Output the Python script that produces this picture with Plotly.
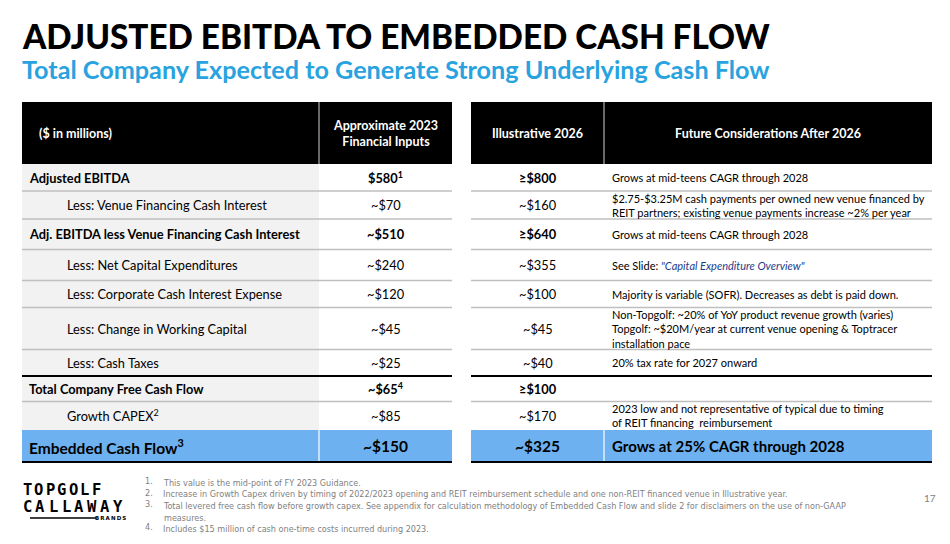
import plotly.graph_objects as go

# ---------------- data ----------------
title = "ADJUSTED EBITDA TO EMBEDDED CASH FLOW"
subtitle = "Total Company Expected to Generate Strong Underlying Cash Flow"

header_labels = ["($ in millions)", "Approximate 2023<br>Financial Inputs",
                 "Illustrative 2026", "Future Considerations After 2026"]

row_labels = [
    "Adjusted EBITDA",
    "Less: Venue Financing Cash Interest",
    "Adj. EBITDA less Venue Financing Cash Interest",
    "Less: Net Capital Expenditures",
    "Less: Corporate Cash Interest Expense",
    "Less: Change in Working Capital",
    "Less: Cash Taxes",
    "Total Company Free Cash Flow",
    "Growth CAPEX<sup>2</sup>",
    "Embedded Cash Flow<sup>3</sup>",
]
row_kind = ["total", "item", "total", "item", "item", "item", "item",
            "total", "item", "highlight"]
inputs_2023 = ["$580<sup>1</sup>", "~$70", "~$510", "~$240", "~$120", "~$45",
               "~$25", "~$65<sup>4</sup>", "~$85", "~$150"]
illustrative_2026 = ["≥$800", "~$160", "≥$640", "~$355", "~$100", "~$45",
                     "~$40", "≥$100", "~$170", "~$325"]
future_considerations = [
    "Grows at mid-teens CAGR through 2028",
    "$2.75-$3.25M cash payments per owned new venue financed by<br>"
    "REIT partners; existing venue payments increase ~2% per year",
    "Grows at mid-teens CAGR through 2028",
    "See Slide: <i><span style='color:#1F3C88'>\"Capital Expenditure Overview\"</span></i>",
    "Majority is variable (SOFR). Decreases as debt is paid down.",
    "Non-Topgolf: ~20% of YoY product revenue growth (varies)<br>"
    "Topgolf: ~$20M/year at current venue opening & Toptracer<br>installation pace",
    "20% tax rate for 2027 onward",
    "",
    "2023 low and not representative of typical due to timing<br>"
    "of REIT financing  reimbursement",
    "Grows at 25% CAGR through 2028",
]
footnotes = [
    "This value is the mid-point of FY 2023 Guidance.",
    "Increase in Growth Capex driven by timing of 2022/2023 opening and REIT reimbursement "
    "schedule and one non-REIT financed venue in Illustrative year.",
    "Total levered free cash flow before growth capex. See appendix for calculation methodology "
    "of Embedded Cash Flow and slide 2 for disclaimers on the use of non-GAAP<br>measures.",
    "Includes $15 million of cash one-time costs incurred during 2023.",
]
logo_lines = ["TOPGOLF", "CALLAWAY"]
logo_sub = "BRANDS"
page_number = "17"

# ---------------- layout constants ----------------
W, H = 950, 544
OFF = 8                      # page body margin
LX = [22, 319, 452]          # left table column edges
RX = [471, 604, 932]         # right table column edges
HEAD = (102, 164)
ROWS = [164, 191, 219, 249.5, 280.5, 307.5, 349.5, 376, 401.5, 430, 462]
FONT = "Lato, 'Open Sans', sans-serif"
NOTE_FONT = "'Liberation Sans Narrow', 'DejaVu Sans Condensed', sans-serif"
GRAY_BG = "#F2F2F2"
LINE_GRAY = "#BFBFBF"
BLUE = "#6DB1F1"

shapes, ann = [], []


def rect(x0, x1, y0, y1, color):
    shapes.append(dict(type="rect", xref="x", yref="y", x0=x0, x1=x1, y0=y0, y1=y1,
                       fillcolor=color, line=dict(width=0), layer="below"))


def hline(x0, x1, y, color, w):
    shapes.append(dict(type="line", xref="x", yref="y", x0=x0, x1=x1, y0=y, y1=y,
                       line=dict(color=color, width=w)))


def vline(x, y0, y1, color, w):
    shapes.append(dict(type="line", xref="x", yref="y", x0=x, x1=x, y0=y0, y1=y1,
                       line=dict(color=color, width=w)))


def text(x, y, s, size, color="#000000", xanchor="left", align="left", family=FONT,
         weight=None, yanchor="middle"):
    f = dict(family=family, size=size, color=color)
    if weight is not None:
        f["weight"] = weight
    ann.append(dict(xref="x", yref="y", x=x, y=y, text=s, showarrow=False,
                    xanchor=xanchor, yanchor=yanchor, align=align, font=f))


# headers
rect(LX[0], LX[2], HEAD[0], HEAD[1], "#000000")
rect(RX[0], RX[2], HEAD[0], HEAD[1], "#000000")
vline(LX[1], HEAD[0], HEAD[1], "#D0D0D0", 1)
vline(RX[1], HEAD[0], HEAD[1], "#D0D0D0", 1)
hy = (HEAD[0] + HEAD[1]) / 2
text(37, hy, "<b>" + header_labels[0] + "</b>", 12.5, "#FFFFFF")
text((LX[1] + LX[2]) / 2, hy, "<b>" + header_labels[1] + "</b>", 12.5, "#FFFFFF", "center", "center")
text((RX[0] + RX[1]) / 2, hy, "<b>" + header_labels[2] + "</b>", 12.5, "#FFFFFF", "center", "center")
text((RX[1] + RX[2]) / 2, hy, "<b>" + header_labels[3] + "</b>", 12.5, "#FFFFFF", "center", "center")

# body
n = len(row_labels)
for i in range(n):
    y0, y1 = ROWS[i], ROWS[i + 1]
    yc = (y0 + y1) / 2
    kind = row_kind[i]
    if kind == "highlight":
        rect(LX[0], LX[2], y0, y1, BLUE)
        rect(RX[0], RX[2], y0, y1, BLUE)
        vline(LX[1], y0, y1, "#FFFFFF", 1.2)
        vline(RX[1], y0, y1, "#FFFFFF", 1.2)
        text(27, yc, "<b>" + row_labels[i] + "</b>", 15.5)
        text((LX[1] + LX[2]) / 2, yc, "<b>" + inputs_2023[i] + "</b>", 15.5, xanchor="center")
        text((RX[0] + RX[1]) / 2, yc, "<b>" + illustrative_2026[i] + "</b>", 15.5, xanchor="center")
        text(RX[1] + 6, yc, "<b>" + future_considerations[i] + "</b>", 15)
        continue
    rect(LX[0], LX[1], y0, y1, GRAY_BG)
    bold = kind == "total"
    lab = "<b>" + row_labels[i] + "</b>" if bold else row_labels[i]
    v1 = "<b>" + inputs_2023[i] + "</b>" if bold else inputs_2023[i]
    v2 = "<b>" + illustrative_2026[i] + "</b>" if bold else illustrative_2026[i]
    text(27 if bold else 65, yc, lab, 12.8)
    text((LX[1] + LX[2]) / 2, yc, v1, 12.8, xanchor="center")
    text((RX[0] + RX[1]) / 2, yc, v2, 12.8, xanchor="center")
    if future_considerations[i]:
        text(RX[1] + 6, yc, future_considerations[i], 11)

# row separators
for i in range(1, n):
    y = ROWS[i]
    if i == 7:
        hline(LX[0], LX[2], y, "#000000", 2)
        hline(RX[0], RX[2], y, "#000000", 2)
    elif i == 9:
        continue
    else:
        hline(LX[0], LX[2], y, LINE_GRAY, 1.5)
        hline(RX[0], RX[2], y, LINE_GRAY, 1.5)
hline(LX[0], LX[2], ROWS[-1], "#000000", 2)
hline(RX[0], RX[2], ROWS[-1], "#000000", 2)

# titles
text(20, 36, title, 33.3, "#000000", weight=900)
text(20, 69, "<b>" + subtitle + "</b>", 25.2, "#29A3E0")

# footnotes
fy = [481, 492.5, 504, 527]
for k, s in enumerate(footnotes):
    text(143, fy[k], f"{k + 1}.", 9, "#7F7F7F", family=NOTE_FONT)
    text(161, fy[k] - 5.5, s, 9, "#7F7F7F", family=NOTE_FONT, yanchor="top")
text(930, 498, page_number, 10, "#7F7F7F", xanchor="center")

# logo (letters spaced individually)
LOGO_FONT = "'DejaVu Sans Mono', monospace"
logo_spec = [(logo_lines[0], 27, 11.5, 490), (logo_lines[1], 27, 13.0, 507)]
for word, start, pitch, yy in logo_spec:
    for j, ch in enumerate(word):
        text(start + j * pitch, yy, "<b>" + ch + "</b>", 15.5, "#000000",
             xanchor="center", family=LOGO_FONT)
hline(30, 96, 518, "#000000", 1.5)
text(110, 518, "<b>" + "\u2009".join(logo_sub) + "</b>", 5.5, "#000000",
     xanchor="center", family="'DejaVu Sans', sans-serif")

fig = go.Figure()
fig.add_trace(go.Scatter(x=[OFF, W], y=[OFF, H], mode="markers", marker=dict(opacity=0),
                         hoverinfo="skip", showlegend=False))
fig.update_layout(
    width=W - OFF, height=H - OFF, margin=dict(l=0, r=0, t=0, b=0),
    paper_bgcolor="#FFFFFF", plot_bgcolor="#FFFFFF",
    xaxis=dict(range=[OFF, W], visible=False, fixedrange=True),
    yaxis=dict(range=[H, OFF], visible=False, fixedrange=True),
    shapes=shapes, annotations=ann, showlegend=False,
)
fig.write_html("out.html", config={"displayModeBar": False})
